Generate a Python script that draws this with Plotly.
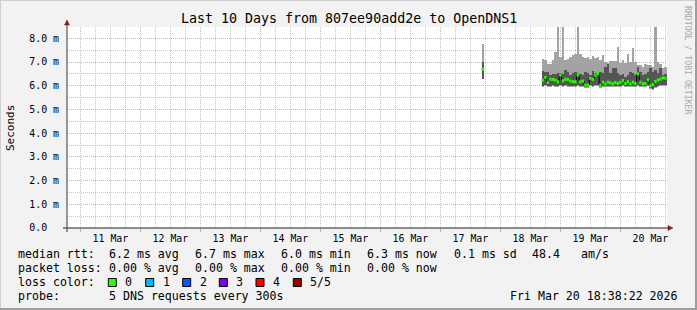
import plotly.graph_objects as go
from datetime import datetime, timedelta

# ---------------- data ----------------
TITLE = "Last 10 Days from 807ee90add2e to OpenDNS1"
Y_LABEL = "Seconds"
WATERMARK = "RRDTOOL / TOBI OETIKER"
VIEW_START = datetime(2026, 3, 10, 18, 38, 22)
VIEW_END = datetime(2026, 3, 20, 18, 38, 22)

y_tick_vals = [0, 1, 2, 3, 4, 5, 6, 7, 8]
y_tick_text = ["0.0\u00a0\u00a0", "1.0 m", "2.0 m", "3.0 m", "4.0 m",
               "5.0 m", "6.0 m", "7.0 m", "8.0 m"]
y_minor_vals = [0.5, 1.5, 2.5, 3.5, 4.5, 5.5, 6.5, 7.5]

# isolated hourly sample (ms)
single_start = datetime(2026, 3, 17, 16, 30)
single_max = [7.76]
single_q4 = [7.00]
single_median = [6.70]
single_q2 = [6.28]
single_min = [6.28]

# continuous hourly block (ms)
block_start = datetime(2026, 3, 18, 16, 30)
block_max = [7.13, 7.08, 6.92, 6.90, 7.08, 7.43, 9.00, 7.22, 9.00, 7.10, 7.12, 7.22,
             7.30, 7.32, 9.00, 7.33, 7.20, 7.15, 7.22, 7.11, 7.25, 7.15, 7.22, 7.08,
             7.30, 7.00, 6.95, 7.05, 7.05, 7.05, 7.65, 6.95, 7.10, 6.98, 7.32, 7.02,
             7.58, 7.02, 6.87, 6.87, 6.80, 6.92, 6.87, 6.87, 6.80, 9.00, 7.00, 6.92,
             6.73, 6.80]
block_q4 = [6.63, 6.59, 6.59, 6.45, 6.48, 6.48, 6.52, 6.55, 6.48, 6.66, 6.59, 6.45,
            6.52, 6.59, 6.55, 6.48, 6.45, 6.59, 6.52, 6.45, 6.63, 6.52, 6.58, 6.59,
            6.55, 6.80, 6.90, 6.52, 6.76, 6.73, 6.52, 6.45, 6.48, 6.38, 6.45, 6.59,
            6.52, 6.45, 6.80, 6.59, 6.45, 6.48, 6.59, 6.76, 6.59, 6.66, 6.52, 6.73,
            6.45, 6.48]
block_median = [6.24, 6.35, 6.14, 6.27, 6.27, 6.24, 6.17, 6.45, 6.21, 6.27, 6.27, 6.20,
                6.17, 6.17, 6.45, 6.17, 6.20, 6.03, 6.03, 6.31, 6.27, 6.45, 6.52, 6.02,
                6.15, 6.08, 6.15, 6.12, 6.08, 6.14, 6.10, 6.15, 6.22, 6.10, 6.17, 6.08,
                6.15, 6.10, 6.50, 6.15, 6.08, 6.10, 6.25, 6.00, 6.05, 6.18, 6.24, 6.28,
                6.33, 6.32]
block_q2 = [6.00, 6.02, 5.98, 6.00, 6.02, 6.00, 5.98, 6.02, 6.00, 6.02, 6.00, 5.98,
            6.00, 6.00, 6.02, 5.98, 6.00, 5.96, 5.96, 6.02, 6.00, 6.05, 6.02, 5.95,
            6.00, 5.98, 6.00, 5.97, 5.98, 6.00, 5.98, 6.00, 6.02, 5.97, 6.00, 5.98,
            6.00, 5.98, 6.05, 6.00, 5.97, 5.98, 6.02, 5.90, 5.86, 5.95, 6.00, 6.02,
            6.05, 6.05]
block_min = [5.96, 5.98, 5.94, 5.96, 5.97, 5.96, 5.94, 5.97, 5.95, 5.97, 5.96, 5.94,
             5.95, 5.96, 5.97, 5.94, 5.96, 5.92, 5.92, 5.97, 5.96, 6.00, 5.97, 5.92,
             5.95, 5.94, 5.96, 5.93, 5.94, 5.96, 5.94, 5.95, 5.97, 5.93, 5.96, 5.94,
             5.96, 5.94, 6.00, 5.96, 5.93, 5.94, 5.97, 5.85, 5.80, 5.90, 5.95, 5.97,
             6.00, 6.00]

legend_row1 = ["median rtt:", "6.2 ms avg", "6.7 ms max", "6.0 ms min", "6.3 ms now",
               "0.1 ms sd", "48.4", "am/s"]
legend_row2 = ["packet loss:", "0.00 % avg", "0.00 % max", "0.00 % min", "0.00 % now"]
loss_title = "loss color:"
loss_labels = ["0", "1", "2", "3", "4", "5/5"]
loss_colors = ["#26ff00", "#00b8ff", "#0059ff", "#7e00ff", "#ff0000", "#a10000"]
probe_title = "probe:"
probe_text = "5 DNS requests every 300s"
stamp_text = "Fri Mar 20 18:38:22 2026"

# ---------------- geometry helpers (layout only) ----------------
W, H = 697, 310
L, R, T, B = 67, 30, 27, 82
PW, PH = W - L - R, H - T - B


def px(x):
    return (x - L) / PW


def py(y):
    return (H - B - y) / PH


MONO = "DejaVu Sans Mono"
LIGHT = "#a3a3a3"
DARK = "#555555"
GRID = "rgba(143,143,143,0.5)"
MGRID = "rgba(222,79,79,0.5)"
STEP = timedelta(hours=1)
STEP_MS = 3600 * 1000

fig = go.Figure()

groups = [
    (single_start, single_max, single_q4, single_median, single_q2, single_min),
    (block_start, block_max, block_q4, block_median, block_q2, block_min),
]

# smoke bars
for start, pmax, pq4, pmed, pq2, pmin in groups:
    centers = [start + STEP * k + STEP / 2 for k in range(len(pmax))]
    fig.add_trace(go.Bar(x=centers, base=pmin, y=[a - b for a, b in zip(pmax, pmin)],
                         width=STEP_MS, marker=dict(color=LIGHT, line=dict(width=0)),
                         hoverinfo="skip", showlegend=False))
    fig.add_trace(go.Bar(x=centers, base=pq2, y=[a - b for a, b in zip(pq4, pq2)],
                         width=STEP_MS, marker=dict(color=DARK, line=dict(width=0)),
                         hoverinfo="skip", showlegend=False))

# median black step line, then loss colored bars
for start, pmax, pq4, pmed, pq2, pmin in groups:
    xs = [start + STEP * k for k in range(len(pmed))] + [start + STEP * len(pmed)]
    ys = list(pmed) + [pmed[-1]]
    fig.add_trace(go.Scatter(x=xs, y=ys, mode="lines", line=dict(color="#000000", width=1, shape="hv"),
                             hoverinfo="skip", showlegend=False))
for start, pmax, pq4, pmed, pq2, pmin in groups:
    gx, gy = [], []
    for k, m in enumerate(pmed):
        gx += [start + STEP * k, start + STEP * (k + 1), None]
        gy += [m, m, None]
    fig.add_trace(go.Scatter(x=gx, y=gy, mode="lines", line=dict(color=loss_colors[0], width=3),
                             hoverinfo="skip", showlegend=False))

annotations = []


def txt(text, x, y, size=11.6, anchor="left", color="#000000", angle=0, yanchor="middle"):
    annotations.append(dict(text=text, x=px(x), y=py(y), xref="paper", yref="paper",
                            xanchor=anchor, yanchor=yanchor, showarrow=False, textangle=angle,
                            font=dict(family=MONO, size=size, color=color)))


txt(TITLE, 348.5, 18, size=13.3, anchor="center")
txt(Y_LABEL, 10, 128, size=11, anchor="center", angle=-90)
txt(WATERMARK, 688, 60, size=8.2, anchor="center", color="#a8a8a8", angle=90)

row1_x = [16, 106.7, 193.3, 279.3, 365.3, 451.7, 530, 579.3]
for t, x in zip(legend_row1, row1_x):
    txt(t, x, 254)
row2_x = [16, 107.3, 193.3, 279.3, 365.3]
for t, x in zip(legend_row2, row2_x):
    txt(t, x, 268)
txt(loss_title, 16, 282)
box_x = [108.3, 145.7, 182.7, 219.3, 256, 293.3]
shapes = []
for lab, col, bx in zip(loss_labels, loss_colors, box_x):
    shapes.append(dict(type="rect", xref="paper", yref="paper", x0=px(bx), x1=px(bx + 8),
                       y0=py(286.5), y1=py(278.5), fillcolor=col, line=dict(color="#000000", width=1)))
    txt(lab, bx + 15, 282)
txt(probe_title, 16, 296)
txt(probe_text, 107.3, 296)
txt(stamp_text, 680, 296, anchor="right")

# axis lines and arrows
shapes.append(dict(type="line", xref="paper", yref="paper", x0=px(63), x1=px(669), y0=0, y1=0,
                   line=dict(color="#1f1f1f", width=1)))
shapes.append(dict(type="line", xref="paper", yref="paper", x0=0, x1=0, y0=py(232), y1=py(23),
                   line=dict(color="#3a3a3a", width=1)))
shapes.append(dict(type="path", xref="paper", yref="paper",
                   path=f"M {px(668)} {py(225.5)} L {px(673)} {py(228)} L {px(668)} {py(230.5)} Z",
                   fillcolor="#801f1f", line=dict(color="#801f1f", width=0.5)))
shapes.append(dict(type="path", xref="paper", yref="paper",
                   path=f"M {px(64.5)} {py(25)} L {px(67)} {py(20)} L {px(69.5)} {py(25)} Z",
                   fillcolor="#801f1f", line=dict(color="#801f1f", width=0.5)))
# frame shading
shapes.append(dict(type="line", xref="paper", yref="paper", x0=px(0), x1=px(W), y0=py(0.5), y1=py(0.5),
                   line=dict(color="#cfcfcf", width=1)))
shapes.append(dict(type="line", xref="paper", yref="paper", x0=px(0.5), x1=px(0.5), y0=py(0), y1=py(H),
                   line=dict(color="#cfcfcf", width=1)))
shapes.append(dict(type="line", xref="paper", yref="paper", x0=px(0), x1=px(W), y0=py(H - 1), y1=py(H - 1),
                   line=dict(color="#9e9e9e", width=2)))
shapes.append(dict(type="line", xref="paper", yref="paper", x0=px(W - 1), x1=px(W - 1), y0=py(0), y1=py(H),
                   line=dict(color="#9e9e9e", width=2)))

fig.update_layout(
    width=W, height=H, margin=dict(l=L, r=R, t=T, b=B, pad=0),
    paper_bgcolor="#f2f2f2", plot_bgcolor="#ffffff",
    barmode="overlay", bargap=0, showlegend=False,
    annotations=annotations, shapes=shapes,
    font=dict(family=MONO, size=10, color="#000000"),
)
fig.update_xaxes(
    type="date", range=[VIEW_START, VIEW_END],
    tick0="2026-03-11 00:00:00", dtick=86400000, tickformat="%d %b", ticklabelmode="period",
    showgrid=True, gridcolor=MGRID, griddash="1px,1px", gridwidth=1,
    ticks="outside", ticklen=3, tickcolor=MGRID, ticklabelstandoff=-2,
    tickfont=dict(family=MONO, size=9.9, color="#000000"),
    minor=dict(dtick=21600000, tick0="2026-03-11 00:00:00", showgrid=True, gridcolor=GRID,
               griddash="1px,1px", gridwidth=1, ticks=""),
    showline=False, zeroline=False, fixedrange=True,
)
fig.update_yaxes(
    range=[0, PH / 23.71], tickmode="array", tickvals=y_tick_vals, ticktext=y_tick_text,
    showgrid=True, gridcolor=MGRID, griddash="1px,1px", gridwidth=1,
    ticks="", ticklabelstandoff=7,
    tickfont=dict(family=MONO, size=9.9, color="#000000"),
    minor=dict(tickmode="array", tickvals=y_minor_vals, showgrid=True, gridcolor=GRID,
               griddash="1px,1px", gridwidth=1),
    showline=False, zeroline=False, fixedrange=True,
)

fig.write_html("out.html", config=dict(displayModeBar=False))
